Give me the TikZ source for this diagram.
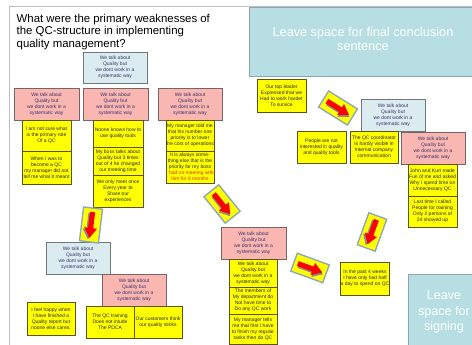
\documentclass[tikz,border=0pt]{standalone}
\usepackage{fontspec}
\setmainfont{Liberation Sans}
\usetikzlibrary{shadows}
\definecolor{pinkfill}{RGB}{250,182,176}
\definecolor{pinkdraw}{RGB}{120,100,100}
\definecolor{pinktext}{RGB}{60,50,110}
\definecolor{bluefill}{RGB}{218,236,240}
\definecolor{bluedraw}{RGB}{110,120,125}
\definecolor{yfill}{RGB}{255,255,0}
\definecolor{ydraw}{RGB}{90,85,20}
\definecolor{ytext}{RGB}{40,40,40}
\definecolor{redtext}{RGB}{225,50,0}
\definecolor{bigfill}{RGB}{183,222,226}
\definecolor{bigdraw}{RGB}{140,168,172}
\definecolor{framegray}{RGB}{190,190,190}
\definecolor{arrowedge}{RGB}{143,168,180}
\tikzset{
  sz/.style 2 args={minimum width=#1pt, minimum height=#2pt},
  box/.style={inner sep=0pt, align=center, font=\fontsize{5}{6}\selectfont},
  pinkbox/.style={box, fill=pinkfill, draw=pinkdraw, line width=0.8pt, text=pinktext,
    drop shadow={shadow xshift=0.9pt, shadow yshift=-0.9pt, fill=black!35, opacity=1}},
  bluebox/.style={box, fill=bluefill, draw=bluedraw, line width=0.8pt, text=pinktext,
    drop shadow={shadow xshift=0.9pt, shadow yshift=-0.9pt, fill=black!35, opacity=1}},
  ybox/.style={box, fill=yfill, draw=ydraw, line width=0.7pt, text=ytext},
  bigbox/.style={fill=bigfill, draw=bigdraw, line width=1pt},
  bigtext/.style={inner sep=0pt, align=center, text=white},
  qarrow/.pic={
    \path[fill=yfill, draw=arrowedge, line width=1.4pt] (-17,-9.5) rectangle (17,9.5);
    \begin{scope}[shift={(1.4,1.4)}]
      \path[fill=black!45] (-13,-2.6) -- (3,-2.6) -- (3,-6.5) -- (13,0) -- (3,6.5) -- (3,2.6) -- (-13,2.6) -- cycle;
    \end{scope}
    \path[fill=red] (-13,-2.6) -- (3,-2.6) -- (3,-6.5) -- (13,0) -- (3,6.5) -- (3,2.6) -- (-13,2.6) -- cycle;
  }
}
\begin{document}
\begin{tikzpicture}[x=1pt,y=-1pt]
\clip (0,0) rectangle (472,345);
\fill[white] (0,0) rectangle (472,345);
% frame
\draw[framegray, line width=1.6pt] (9.5,346) -- (9.5,6.5) -- (473,6.5);
% big boxes
\path[bigbox] (249,8) rectangle (480,77);
\node[bigtext, font=\fontsize{12.7}{14}\selectfont] (concl) at (363,38.5) {Leave space for final conclusion\\sentence};
\path[bigbox] (408,274) rectangle (480,350);
\node[bigtext, font=\fontsize{12.6}{15.5}\selectfont] (sign) at (444,312) {Leave\\space for\\signing};
% title
\node[anchor=north west, inner sep=0pt, align=left, font=\fontsize{11.4}{12.3}\selectfont] (title) at (16.5,14)
  {What were the primary weaknesses of\\the QC-structure in implementing\\quality management?};
% left cluster
\node[bluebox, sz={64}{31}] (b1) at (115,67.5) {We talk about\\Quality but\\we dont work in a\\systematic way};
\node[pinkbox, sz={65}{32}] (p1) at (46.5,104) {We talk about\\Quality but\\we dont work in a\\systematic way};
\node[ybox, sz={49}{31}] (y1a) at (46.5,135.5) {I am not sure what\\is the primary role\\Of a QC};
\node[ybox, sz={49}{33}] (y1b) at (46.5,167.5) {When I was to\\become a QC\\my manager did not\\tell me what it meant};
\node[pinkbox, sz={65}{32}] (p2) at (115.5,104) {We talk about\\Quality but\\we dont work in a\\systematic way};
\node[ybox, sz={50}{27}] (y2a) at (118,133.5) {Noone knows how to\\use quality tools};
\node[ybox, sz={50}{28}] (y2b) at (118,161) {My boss talks about\\Quality but 3 times\\out of 4 he changed\\our meeting time};
\node[ybox, sz={50}{32}] (y2c) at (118,191) {We only meet once\\Every year to\\Share our\\experiences};
\node[pinkbox, sz={64}{32}] (p3) at (190,104) {We talk about\\Quality but\\we dont work in a\\systematic way};
\node[ybox, sz={48}{31}] (y3a) at (190,135.5) {My manager  told me\\that his number one\\priority is to lower\\the cost of operations};
\node[ybox, sz={48}{32}] (y3b) at (190,167) {It is always some-\\thing else that is the\\priority for my boss\\\textcolor{redtext}{I had no meeting with}\\\textcolor{redtext}{him for 6 months}};
% lower left
\node[bluebox, sz={64}{32}] (b2) at (78,258) {We talk about\\Quality but\\we dont work in a\\systematic way};
\node[pinkbox, sz={64}{33}] (p4) at (134,290.5) {We talk about\\Quality but\\we dont work in a\\systematic way};
\node[ybox, sz={48}{32}] (y4a) at (110,322) {The QC training\\Does not inlude\\The PDCA};
\node[ybox, sz={48}{32}] (y4b) at (158,322) {Our customers think\\our quality stinks};
\node[ybox, sz={48}{33}] (yfeel) at (51,318.5) {I feel happy when\\I have finished a\\Quality report but\\noone else cares.};
% right cluster
\node[ybox, sz={49}{33}] (ylead) at (281.5,95.5) {Our top leader\\Expressed that we\\Had to work harder\\To survice};
\node[bluebox, sz={64}{32}] (b3) at (393,115) {We talk about\\Quality but\\we dont work in a\\systematic way};
\node[ybox, sz={49}{32}] (ypeople) at (321.5,147) {People are not\\interested in quality\\and quality tools};
\node[ybox, sz={48}{32}] (ycoord) at (374,147) {The QC coordinator\\Is hardly visible in\\Internal company\\communication};
\node[pinkbox, sz={64}{32}] (p6) at (433,148) {We talk about\\Quality but\\we dont work in a\\systematic way};
\node[ybox, sz={49}{32}] (y6a) at (432.5,180) {John and Kurt made\\Fun of me and asked\\Why I spend time on\\Unnecessary QC};
\node[ybox, sz={49}{31}] (y6b) at (432.5,211.5) {Last time I called\\People for training\\Only 2 persons of\\24 showed up};
% bottom middle
\node[pinkbox, sz={65}{32}] (p5) at (253.5,243) {We talk about\\Quality but\\we dont work in a\\systematic way};
\node[ybox, sz={48}{28}] (y5a) at (253,273) {We talk about\\Quality but\\we dont work in a\\systematic way};
\node[ybox, sz={48}{27}] (y5b) at (253,300.5) {The members of\\My department do\\Not have time to\\Do any QC work};
\node[ybox, sz={48}{30}] (y5c) at (253,329) {My manager tells\\me that first I have\\to finish my regular\\tasks then do QC};
\node[ybox, sz={48}{33}] (yhalf) at (365,278.5) {In the past 4 weeks\\I have only had half\\a day  to spend on QC};
% arrows
\pic[rotate=-51] at (222,204) {qarrow};
\pic[rotate=-97] at (91,225) {qarrow};
\pic[rotate=-32] at (338,108) {qarrow};
\pic[rotate=-110] at (372,232) {qarrow};
\pic[rotate=-20] at (310,268) {qarrow};
\end{tikzpicture}
\end{document}
